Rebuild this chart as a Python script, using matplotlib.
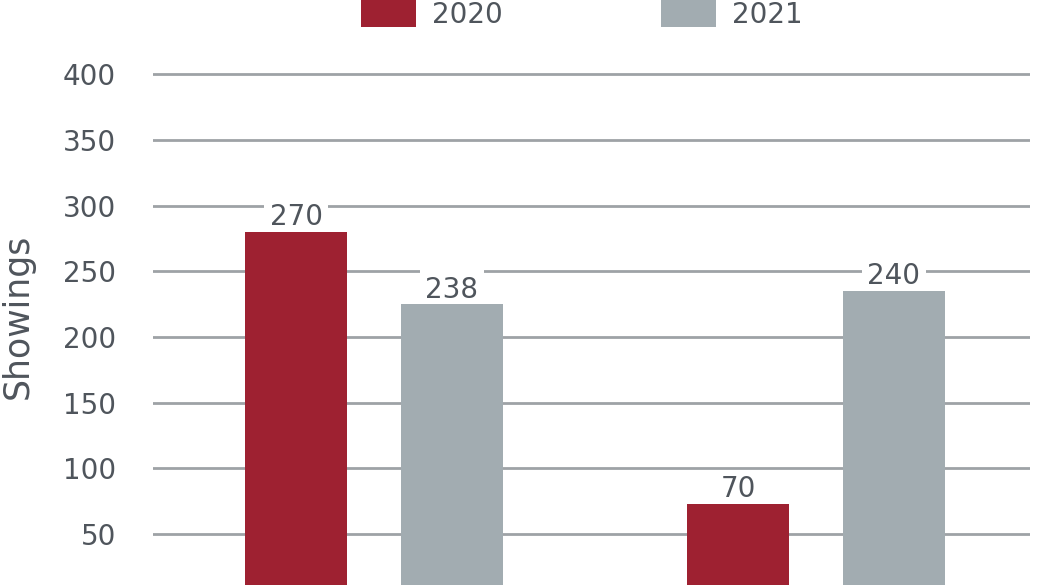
import numpy as np
import matplotlib
matplotlib.use("Agg")
import matplotlib.pyplot as plt

# data (bar heights) and the printed labels
groups = ["A", "B"]
series = ["2020", "2021"]
vals_2020 = [280, 73]
vals_2021 = [225, 235]
labels_2020 = ["270", "70"]
labels_2021 = ["238", "240"]
yticks = [50, 100, 150, 200, 250, 300, 350, 400]

RED = "#9e2131"
GREY = "#a2acb1"
TXT = "#4f555c"
GRID = "#9ea2a6"

plt.rcParams["font.family"] = ["DejaVu Sans"]

fig = plt.figure(figsize=(10.4, 5.85), dpi=100)
ax = fig.add_axes([153 / 1040, 0, (1030 - 153) / 1040, 1])

x = np.arange(len(groups))
off = 0.176
w = 0.231
# bars sit above the label boxes so the white boxes only break the grid lines
b1 = ax.bar(x - off, vals_2020, w, color=RED, label=series[0], zorder=4)
b2 = ax.bar(x + off, vals_2021, w, color=GREY, label=series[1], zorder=4)

for bars, labs in ((b1, labels_2020), (b2, labels_2021)):
    for r, lab in zip(bars, labs):
        ax.annotate(lab, (r.get_x() + r.get_width() / 2, r.get_height()),
                    xytext=(0, 0.5), textcoords="offset points",
                    ha="center", va="bottom", fontsize=20, color=TXT, zorder=3,
                    bbox=dict(boxstyle="square,pad=0.2", fc="white", ec="none"))

ax.set_xlim(-0.5, 1.484)
ax.set_ylim(11.2, 456.7)
ax.set_yticks(yticks)
ax.set_xticks([])
for v in yticks:
    ax.axhline(v, color=GRID, lw=2, zorder=1)
ax.tick_params(axis="y", length=0, pad=26.6, labelsize=20, labelcolor=TXT)
for s in ax.spines.values():
    s.set_visible(False)

fig.text(18 / 1040, 1 - 316 / 585, "Showings", rotation=90, ha="center",
         va="center", fontsize=25, color=TXT)

fig.legend(handles=[b1, b2], labels=series, ncol=2, frameon=False,
           loc="center left", bbox_to_anchor=(361 / 1040, 1 - 14.5 / 585),
           fontsize=20, handlelength=1.98, handleheight=1.1,
           handletextpad=0.58, columnspacing=5.7, borderpad=0, borderaxespad=0,
           labelcolor=TXT)

fig.savefig("out.png", dpi=100)
